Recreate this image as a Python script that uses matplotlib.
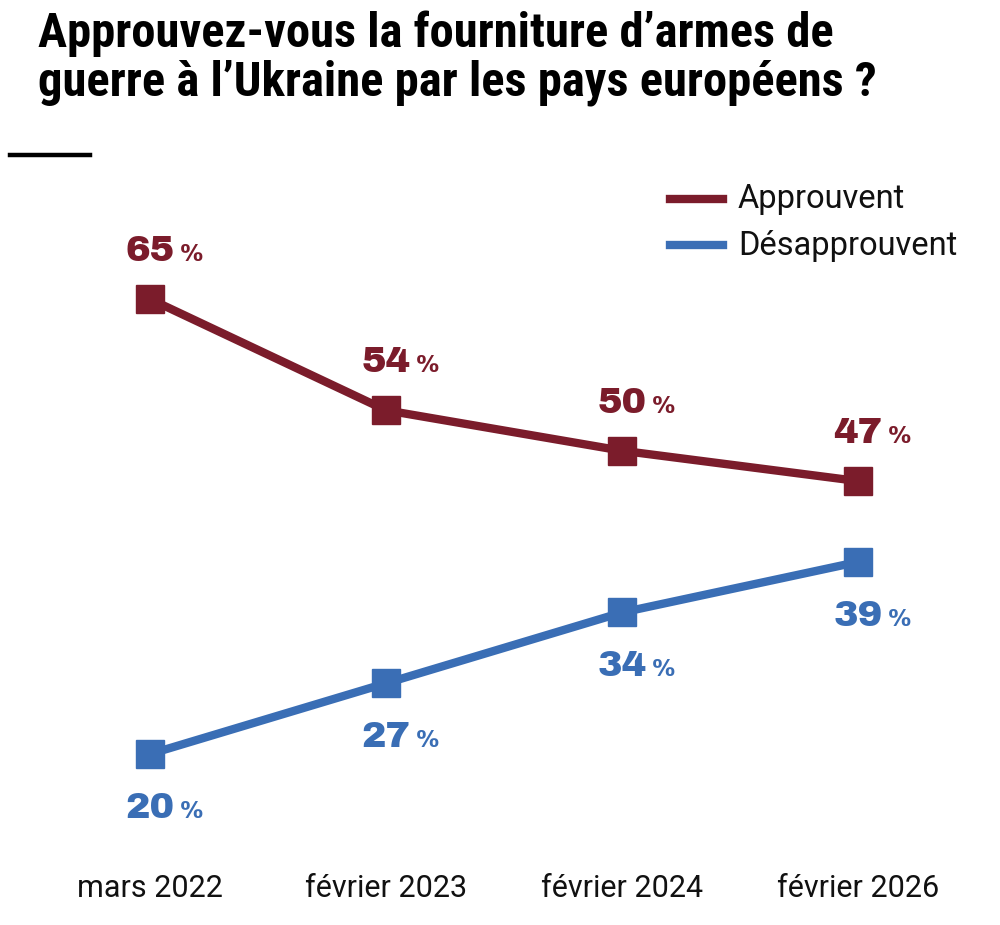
import matplotlib
matplotlib.use("Agg")
import matplotlib.pyplot as plt

# data
dates = ["mars 2022", "février 2023", "février 2024", "février 2026"]
approuvent = [65, 54, 50, 47]
desapprouvent = [20, 27, 34, 39]
series_names = ["Approuvent", "Désapprouvent"]

RED = "#7b1c2b"
BLUE = "#3a6eb5"
COND = ["Roboto Condensed", "Roboto", "DejaVu Sans"]
REG = ["Roboto", "DejaVu Sans"]
NUM = ["Archivo Black", "DejaVu Sans"]

H = 925.0  # figure height in px, for placing the annotations

fig = plt.figure(figsize=(10, 9.25), dpi=100)
ax = fig.add_axes([0, 0, 1, 1])
ax.set_xlim(-0.6356, 3.6017)
ax.set_ylim(3.09, 94.58)
ax.axis("off")

x = list(range(len(dates)))
ax.plot(x, approuvent, color=RED, lw=6, marker="s", ms=20, solid_joinstyle="miter")
ax.plot(x, desapprouvent, color=BLUE, lw=6, marker="s", ms=20, solid_joinstyle="miter")


def label(xi, v, color, dy):
    t = ax.annotate(str(v), xy=(xi, v), xytext=(0, dy), textcoords="offset pixels",
                    ha="center", va="baseline", color=color, fontsize=26.5,
                    family=NUM)
    ax.annotate("%", xy=(1, v), xycoords=(t, "data"), xytext=(5, dy),
                textcoords="offset pixels", ha="left", va="baseline",
                color=color, fontsize=17, family=NUM)


for xi, v in zip(x, approuvent):
    label(xi, v, RED, 38)
for xi, v in zip(x, desapprouvent):
    label(xi, v, BLUE, -64)

# x labels
for xi, d in zip(x, dates):
    ax.annotate(d, xy=(xi, 0), xycoords=("data", "figure pixels"), xytext=(0, H - 897),
                textcoords="offset pixels", ha="center", va="baseline",
                fontsize=22, family=REG, color="#111111")

# legend
for (ly, tb), name, c in zip([(199, 208), (245, 255)], series_names, [RED, BLUE]):
    fig.lines.append(plt.Line2D([0.670, 0.723], [1 - ly / H] * 2, color=c, lw=6,
                                transform=fig.transFigure))
    fig.text(0.738, 1 - tb / H, name, ha="left", va="baseline", fontsize=23.5,
             family=REG, color="#111111")

# title
fig.text(0.038, 1 - 47 / H, "Approuvez-vous la fourniture d’armes de",
         ha="left", va="baseline", fontsize=35, fontweight="bold", family=COND)
fig.text(0.038, 1 - 95 / H, "guerre à l’Ukraine par les pays européens ?",
         ha="left", va="baseline", fontsize=35, fontweight="bold", family=COND)
fig.lines.append(plt.Line2D([0.010, 0.090], [1 - 155 / H] * 2, color="black", lw=3.2,
                            transform=fig.transFigure))

fig.savefig("out.png", dpi=100)
